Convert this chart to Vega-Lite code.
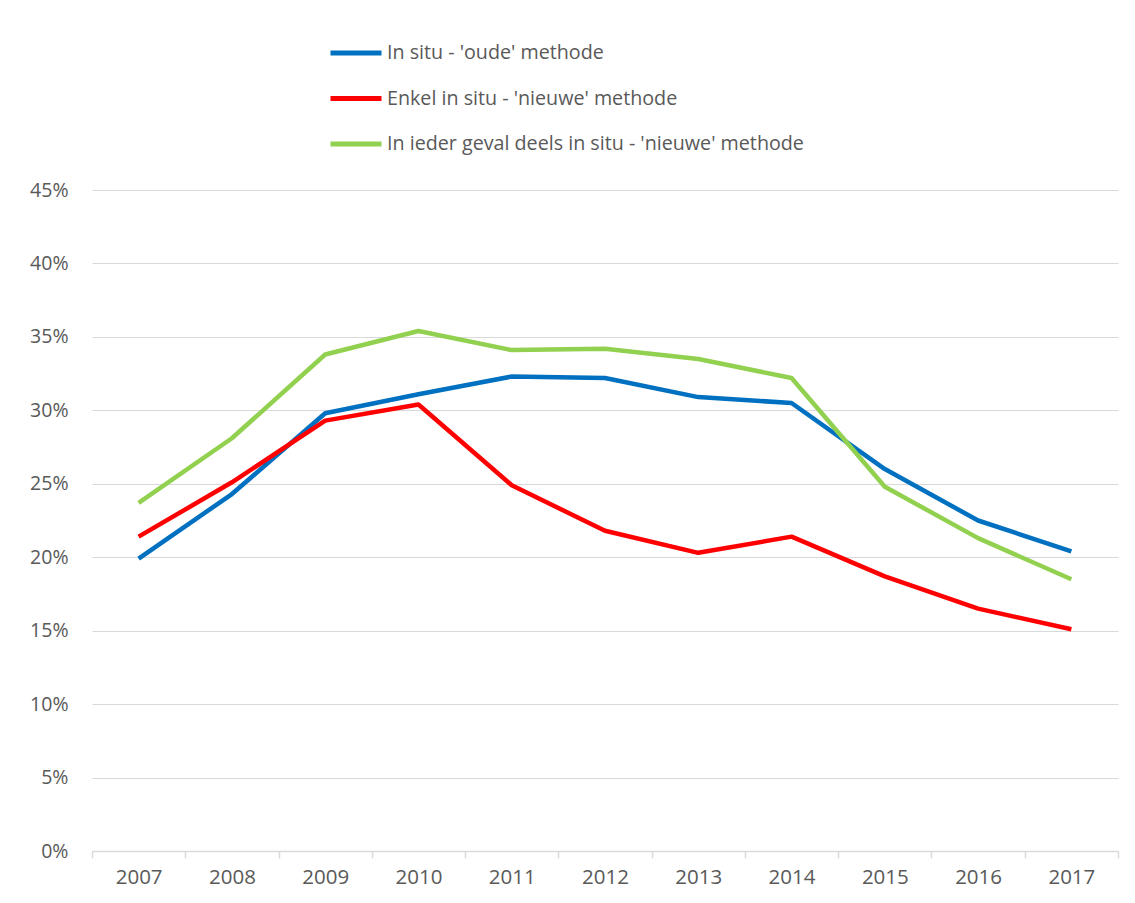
{
  "$schema": "https://vega.github.io/schema/vega-lite/v6.json",
  "width": 1026,
  "height": 661,
  "autosize": {"type": "none"},
  "padding": {"left": 92, "top": 190, "right": 17, "bottom": 52},
  "background": "white",
  "config": {
    "font": "Open Sans",
    "view": {"stroke": null},
    "axis": {"labelFont": "Open Sans", "labelColor": "#595959", "labelFontSize": 19, "title": null}
  },
  "data": {
    "values": [
      {"jaar": "2007", "reeks": "In situ - 'oude' methode", "waarde": 0.199},
      {"jaar": "2008", "reeks": "In situ - 'oude' methode", "waarde": 0.243},
      {"jaar": "2009", "reeks": "In situ - 'oude' methode", "waarde": 0.298},
      {"jaar": "2010", "reeks": "In situ - 'oude' methode", "waarde": 0.311},
      {"jaar": "2011", "reeks": "In situ - 'oude' methode", "waarde": 0.323},
      {"jaar": "2012", "reeks": "In situ - 'oude' methode", "waarde": 0.322},
      {"jaar": "2013", "reeks": "In situ - 'oude' methode", "waarde": 0.309},
      {"jaar": "2014", "reeks": "In situ - 'oude' methode", "waarde": 0.305},
      {"jaar": "2015", "reeks": "In situ - 'oude' methode", "waarde": 0.260},
      {"jaar": "2016", "reeks": "In situ - 'oude' methode", "waarde": 0.225},
      {"jaar": "2017", "reeks": "In situ - 'oude' methode", "waarde": 0.204},
      {"jaar": "2007", "reeks": "Enkel in situ - 'nieuwe' methode", "waarde": 0.214},
      {"jaar": "2008", "reeks": "Enkel in situ - 'nieuwe' methode", "waarde": 0.251},
      {"jaar": "2009", "reeks": "Enkel in situ - 'nieuwe' methode", "waarde": 0.293},
      {"jaar": "2010", "reeks": "Enkel in situ - 'nieuwe' methode", "waarde": 0.304},
      {"jaar": "2011", "reeks": "Enkel in situ - 'nieuwe' methode", "waarde": 0.249},
      {"jaar": "2012", "reeks": "Enkel in situ - 'nieuwe' methode", "waarde": 0.218},
      {"jaar": "2013", "reeks": "Enkel in situ - 'nieuwe' methode", "waarde": 0.203},
      {"jaar": "2014", "reeks": "Enkel in situ - 'nieuwe' methode", "waarde": 0.214},
      {"jaar": "2015", "reeks": "Enkel in situ - 'nieuwe' methode", "waarde": 0.187},
      {"jaar": "2016", "reeks": "Enkel in situ - 'nieuwe' methode", "waarde": 0.165},
      {"jaar": "2017", "reeks": "Enkel in situ - 'nieuwe' methode", "waarde": 0.151},
      {"jaar": "2007", "reeks": "In ieder geval deels in situ - 'nieuwe' methode", "waarde": 0.237},
      {"jaar": "2008", "reeks": "In ieder geval deels in situ - 'nieuwe' methode", "waarde": 0.281},
      {"jaar": "2009", "reeks": "In ieder geval deels in situ - 'nieuwe' methode", "waarde": 0.338},
      {"jaar": "2010", "reeks": "In ieder geval deels in situ - 'nieuwe' methode", "waarde": 0.354},
      {"jaar": "2011", "reeks": "In ieder geval deels in situ - 'nieuwe' methode", "waarde": 0.341},
      {"jaar": "2012", "reeks": "In ieder geval deels in situ - 'nieuwe' methode", "waarde": 0.342},
      {"jaar": "2013", "reeks": "In ieder geval deels in situ - 'nieuwe' methode", "waarde": 0.335},
      {"jaar": "2014", "reeks": "In ieder geval deels in situ - 'nieuwe' methode", "waarde": 0.322},
      {"jaar": "2015", "reeks": "In ieder geval deels in situ - 'nieuwe' methode", "waarde": 0.248},
      {"jaar": "2016", "reeks": "In ieder geval deels in situ - 'nieuwe' methode", "waarde": 0.213},
      {"jaar": "2017", "reeks": "In ieder geval deels in situ - 'nieuwe' methode", "waarde": 0.185}
    ]
  },
  "mark": {"type": "line", "strokeWidth": 4.5, "strokeCap": "butt", "strokeJoin": "round"},
  "encoding": {
    "x": {
      "field": "jaar",
      "type": "ordinal",
      "bandPosition": 0.5,
      "scale": {"type": "band", "paddingInner": 0, "paddingOuter": 0},
      "axis": {
        "tickBand": "extent",
        "labelAngle": 0,
        "labelFontSize": 20.5,
        "domainColor": "#d9d9d9",
        "domainWidth": 1.5,
        "tickColor": "#d9d9d9",
        "tickWidth": 1.5,
        "tickSize": 7,
        "labelPadding": 9,
        "grid": false
      }
    },
    "y": {
      "field": "waarde",
      "type": "quantitative",
      "scale": {"domain": [0, 0.45], "nice": false},
      "axis": {
        "values": [0, 0.05, 0.1, 0.15, 0.2, 0.25, 0.3, 0.35, 0.4, 0.45],
        "format": ".0%",
        "domain": false,
        "ticks": false,
        "grid": true,
        "gridColor": "#d9d9d9",
        "gridWidth": 1.2,
        "labelFontSize": 19.5,
        "labelPadding": 24
      }
    },
    "color": {
      "field": "reeks",
      "type": "nominal",
      "sort": ["In situ - 'oude' methode", "Enkel in situ - 'nieuwe' methode", "In ieder geval deels in situ - 'nieuwe' methode"],
      "scale": {
        "domain": ["In situ - 'oude' methode", "Enkel in situ - 'nieuwe' methode", "In ieder geval deels in situ - 'nieuwe' methode"],
        "range": ["#0070C0", "#FF0000", "#92D050"]
      },
      "legend": {
        "title": null,
        "orient": "none",
        "legendX": 236,
        "legendY": -165,
        "direction": "vertical",
        "symbolType": "stroke",
        "symbolSize": 2601,
        "symbolStrokeWidth": 5,
        "labelFont": "Open Sans",
        "labelFontSize": 19.7,
        "labelColor": "#595959",
        "labelOffset": 3,
        "rowPadding": 7.5,
        "labelLimit": 600
      }
    }
  }
}
